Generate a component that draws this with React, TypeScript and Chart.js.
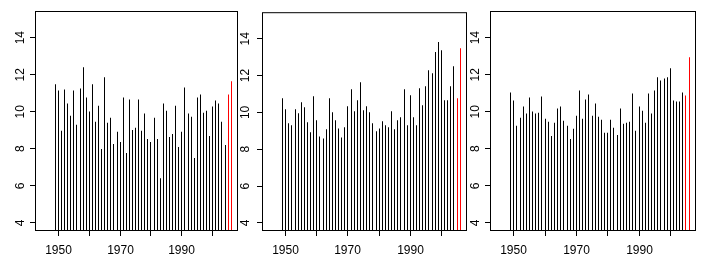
import React, { useEffect, useRef } from 'react';
import { Chart, registerables, LinearScale } from 'chart.js';

Chart.register(...registerables);

// Linear scale whose pixels land on pixel centres, so 1px vertical lines stay crisp
class PixelLinearScale extends LinearScale {
  static id = 'pixelLinear';
  static defaults = LinearScale.defaults;
  getPixelForValue(value: number, index?: number) {
    const p = super.getPixelForValue(value, index);
    return Math.floor(p) + 0.5;
  }
}
Chart.register(PixelLinearScale);

const YEARS = [
  1949, 1950, 1951, 1952, 1953, 1954, 1955, 1956, 1957, 1958,
  1959, 1960, 1961, 1962, 1963, 1964, 1965, 1966, 1967, 1968,
  1969, 1970, 1971, 1972, 1973, 1974, 1975, 1976, 1977, 1978,
  1979, 1980, 1981, 1982, 1983, 1984, 1985, 1986, 1987, 1988,
  1989, 1990, 1991, 1992, 1993, 1994, 1995, 1996, 1997, 1998,
  1999, 2000, 2001, 2002, 2003, 2004, 2005, 2006,
];
const HIGHLIGHT_YEARS = [2005, 2006];

const SERIES_1 = [
  11.48, 11.15, 8.97, 11.2, 10.44, 9.79, 11.15, 9.3, 11.26, 12.4,
  10.77, 10.01, 11.48, 9.46, 10.33, 7.99, 11.86, 9.41, 9.68, 8.26,
  8.92, 8.37, 10.77, 7.77, 10.66, 9.02, 9.13, 10.66, 8.97, 9.9,
  8.53, 8.37, 9.68, 8.53, 6.41, 10.44, 10.06, 8.64, 8.8, 10.33,
  8.1, 8.92, 11.31, 9.9, 9.73, 7.5, 10.77, 10.93, 9.95, 10.06,
  8.69, 10.28, 10.61, 10.44, 9.46, 8.21, 10.93, 11.64,
];
const SERIES_2 = [
  10.77, 10.17, 9.41, 9.3, 10.17, 9.95, 10.55, 10.28, 9.46, 8.92,
  10.88, 9.57, 8.69, 8.58, 9.08, 10.77, 10.01, 9.57, 9.13, 8.64,
  9.19, 10.33, 11.26, 10.06, 10.66, 11.64, 10.12, 10.33, 10.01, 9.41,
  8.97, 9.13, 9.52, 9.3, 9.19, 10.06, 9.08, 9.57, 9.73, 11.26,
  9.3, 10.93, 9.73, 9.3, 11.31, 10.39, 11.42, 12.29, 12.13, 13.28,
  13.82, 13.37, 10.66, 10.66, 11.42, 12.51, 10.77, 13.48,
];
const SERIES_3 = [
  11.04, 10.61, 9.24, 9.68, 10.28, 9.9, 10.77, 10.01, 9.9, 9.95,
  10.82, 9.62, 9.46, 8.69, 9.41, 10.17, 10.28, 9.52, 9.24, 8.53,
  9.08, 9.79, 11.15, 9.62, 10.66, 10.93, 9.79, 10.44, 9.73, 9.57,
  8.86, 8.86, 9.57, 9.13, 8.75, 10.17, 9.35, 9.41, 9.46, 10.99,
  8.97, 10.28, 10.06, 9.41, 10.99, 9.9, 11.15, 11.86, 11.69, 11.8,
  11.86, 12.35, 10.61, 10.55, 10.55, 11.04, 10.88, 12.94,
];

const X_TICKS = [1950, 1960, 1970, 1980, 1990, 2000];
const X_LABELS = [1950, 1970, 1990];
const Y_TICKS = [4, 6, 8, 10, 12, 14];
const X_MIN = 1942.4;
const X_MAX = 2008.2;
const Y_MIN = 3.56;
const Y_MAX = 15.44;

const FONT = { family: '"Liberation Sans", Arial, Helvetica, sans-serif', size: 12 };

const boxPlugin = {
  id: 'rbox',
  afterDraw(chart: any) {
    const { ctx, chartArea } = chart;
    ctx.save();
    ctx.strokeStyle = '#000';
    ctx.lineWidth = 1;
    ctx.strokeRect(
      chartArea.left + 0.5,
      chartArea.top + 0.5,
      chartArea.right - chartArea.left - 1,
      chartArea.bottom - chartArea.top - 1
    );
    ctx.restore();
  },
};

type PanelProps = {
  values: number[];
  left: number;
  width: number;
  areaLeft: number;
  areaRight: number;
  labelPad: number;
};

function Panel({ values, left, width, areaLeft, areaRight, labelPad }: PanelProps) {
  const ref = useRef<HTMLCanvasElement | null>(null);
  useEffect(() => {
    if (!ref.current) return;
    const data = YEARS.map((y, i) => ({ x: y, y: values[i] }));
    const colors = YEARS.map((y) => (HIGHLIGHT_YEARS.includes(y) ? '#ff0000' : '#000000'));
    const chart = new Chart(ref.current, {
      type: 'bar',
      data: {
        datasets: [
          {
            data,
            backgroundColor: colors,
            borderWidth: 0,
            barThickness: 1,
            inflateAmount: 0,
          } as any,
        ],
      },
      options: {
        responsive: false,
        animation: false,
        devicePixelRatio: 1,
        layout: { padding: { left: 0, right: width - areaRight, top: 11, bottom: 0 } },
        plugins: { legend: { display: false }, tooltip: { enabled: false } },
        scales: {
          x: {
            type: 'pixelLinear' as any,
            min: X_MIN,
            max: X_MAX,
            offset: false,
            grid: {
              offset: false,
              drawOnChartArea: false,
              drawTicks: true,
              tickLength: 5,
              color: '#000',
              lineWidth: 1,
            },
            border: { display: false },
            afterBuildTicks: (scale: any) => {
              scale.ticks = X_TICKS.map((v) => ({ value: v }));
            },
            afterFit: (scale: any) => {
              scale.height = 33;
            },
            ticks: {
              autoSkip: false,
              maxRotation: 0,
              minRotation: 0,
              padding: 7,
              color: '#000',
              font: FONT,
              callback: (v: any) => (X_LABELS.includes(Number(v)) ? String(v) : ''),
            },
          } as any,
          y: {
            type: 'linear',
            min: Y_MIN,
            max: Y_MAX,
            grid: {
              drawOnChartArea: false,
              drawTicks: true,
              tickLength: 5,
              color: '#000',
              lineWidth: 1,
            },
            border: { display: false },
            afterBuildTicks: (scale: any) => {
              scale.ticks = Y_TICKS.map((v) => ({ value: v }));
            },
            afterFit: (scale: any) => {
              scale.width = areaLeft;
            },
            ticks: {
              minRotation: 90,
              maxRotation: 90,
              crossAlign: 'center',
              padding: labelPad,
              color: '#000',
              font: FONT,
              callback: (v: any) => String(v),
            },
          } as any,
        },
      },
      plugins: [boxPlugin],
    });
    return () => chart.destroy();
  }, [values, width, areaLeft, areaRight, labelPad]);
  return (
    <canvas
      ref={ref}
      width={width}
      height={264}
      style={{ position: 'absolute', left, top: 0, width, height: 264 }}
    />
  );
}

export default function App() {
  return (
    <div
      style={{
        position: 'absolute',
        left: 0,
        top: 0,
        width: 705,
        height: 264,
        background: '#fff',
        overflow: 'hidden',
      }}
    >
      <Panel values={SERIES_1} left={0} width={240} areaLeft={35} areaRight={238} labelPad={3} />
      <Panel values={SERIES_2} left={240} width={230} areaLeft={22} areaRight={227} labelPad={5} />
      <Panel values={SERIES_3} left={470} width={235} areaLeft={20} areaRight={226} labelPad={3} />
    </div>
  );
}
